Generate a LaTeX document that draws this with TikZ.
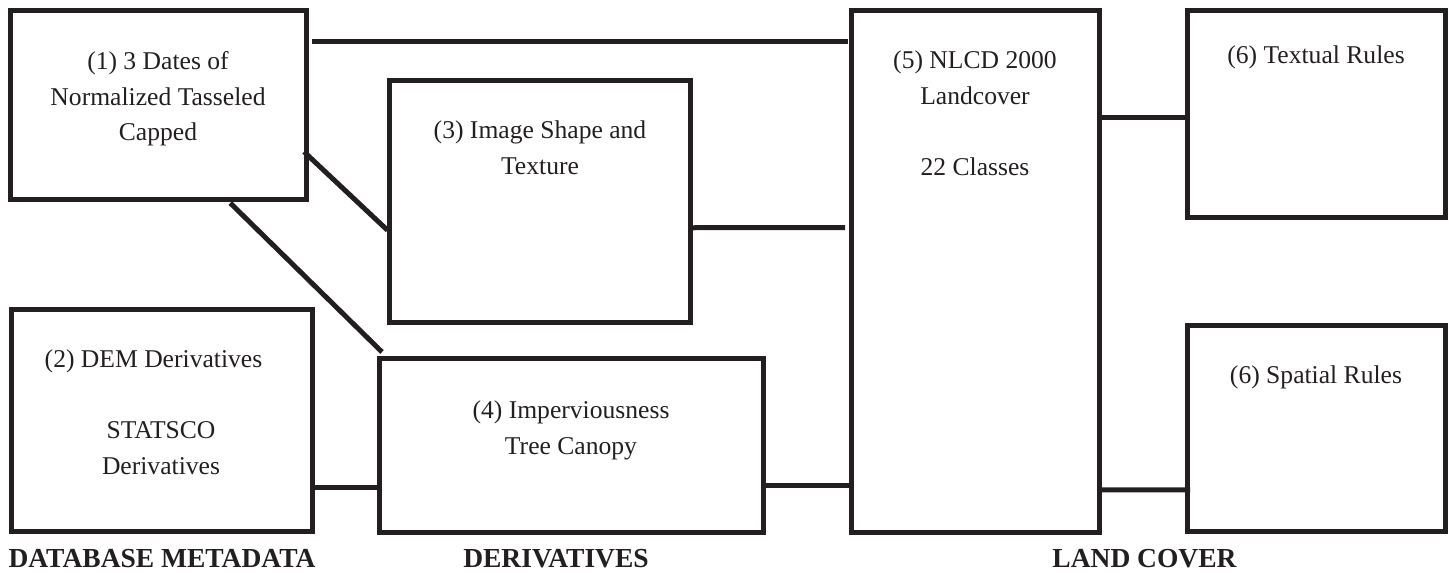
\documentclass[tikz,border=0pt]{standalone}
\usepackage{fontspec}
\setmainfont{Liberation Serif}
\definecolor{ink}{HTML}{231F20}
\begin{document}
\begin{tikzpicture}[x=1pt,y=-1pt,
  box/.style={draw=ink, line width=5pt, rectangle, inner sep=0pt, outer sep=0pt, anchor=north west},
  conn/.style={draw=ink, line width=5pt},
  txt/.style={text=ink, align=center, anchor=north, inner sep=0pt, font=\fontsize{25.6}{35.5}\selectfont},
  lbl/.style={text=ink, anchor=base, inner sep=0pt, font=\fontsize{27.5}{30}\selectfont\bfseries}]
\useasboundingbox (0,0) rectangle (1449,573);

% boxes
\node[box, minimum width=295.5, minimum height=188.5] (b1) at (10.5,10.5) {};
\node[box, minimum width=301.5, minimum height=221.5] (b2) at (11,309.5) {};
\node[box, minimum width=300.5, minimum height=241.5] (b3) at (389.5,80.5) {};
\node[box, minimum width=383.5, minimum height=173.5] (b4) at (379.5,358.5) {};
\node[box, minimum width=248, minimum height=522] (b5) at (851,10) {};
\node[box, minimum width=258, minimum height=206.5] (b6a) at (1187,10.5) {};
\node[box, minimum width=258, minimum height=206] (b6b) at (1187,325.5) {};

% texts
\node[txt] (t1) at (158,51.5) {(1) 3 Dates of\\Normalized Tasseled\\Capped};
\node[txt] (t2) at (161,350) {(2) DEM Derivatives\hspace*{15pt}\\[35.5pt]STATSCO\\Derivatives};
\node[txt] (t3) at (540,121) {(3) Image Shape and\\Texture};
\node[txt] (t4) at (571,401) {(4) Imperviousness\\Tree Canopy};
\node[txt] (t5) at (975,51) {(5) NLCD 2000\\Landcover\\[35.5pt]22 Classes};
\node[txt] (t6a) at (1316,46) {(6) Textual Rules};
\node[txt] (t6b) at (1316,366) {(6) Spatial Rules};

% group labels
\node[lbl] (l1) at (162,567) {DATABASE METADATA};
\node[lbl] (l2) at (556,567) {DERIVATIVES};
\node[lbl] (l3) at (1144.5,567) {LAND COVER};

% connectors
\draw[conn] ([shift={(6,30.5)}]b1.north east) -- ([shift={(-3,-230)}]b5.west);
\draw[conn] ([shift={(-2,47)}]b1.east) -- ([shift={(-2,29)}]b3.west);
\draw[conn] ([shift={(72,4)}]b1.south) -- ([shift={(2.5,-6.5)}]b4.north west);
\draw[conn] ([shift={(2.5,26.5)}]b3.east) -- ([shift={(-6,-43.5)}]b5.west);
\draw[conn] ([shift={(1,66.75)}]b2.east) -- ([shift={(-1.5,41.75)}]b4.west);
\draw[conn] ([shift={(0,39.75)}]b4.east) -- ([shift={(-2,214)}]b5.west);
\draw[conn] ([shift={(0,-153.5)}]b5.east) -- ([shift={(-1,3.75)}]b6a.west);
\draw[conn] ([shift={(-2,219)}]b5.east) -- ([shift={(3,61.25)}]b6b.west);
\end{tikzpicture}
\end{document}
